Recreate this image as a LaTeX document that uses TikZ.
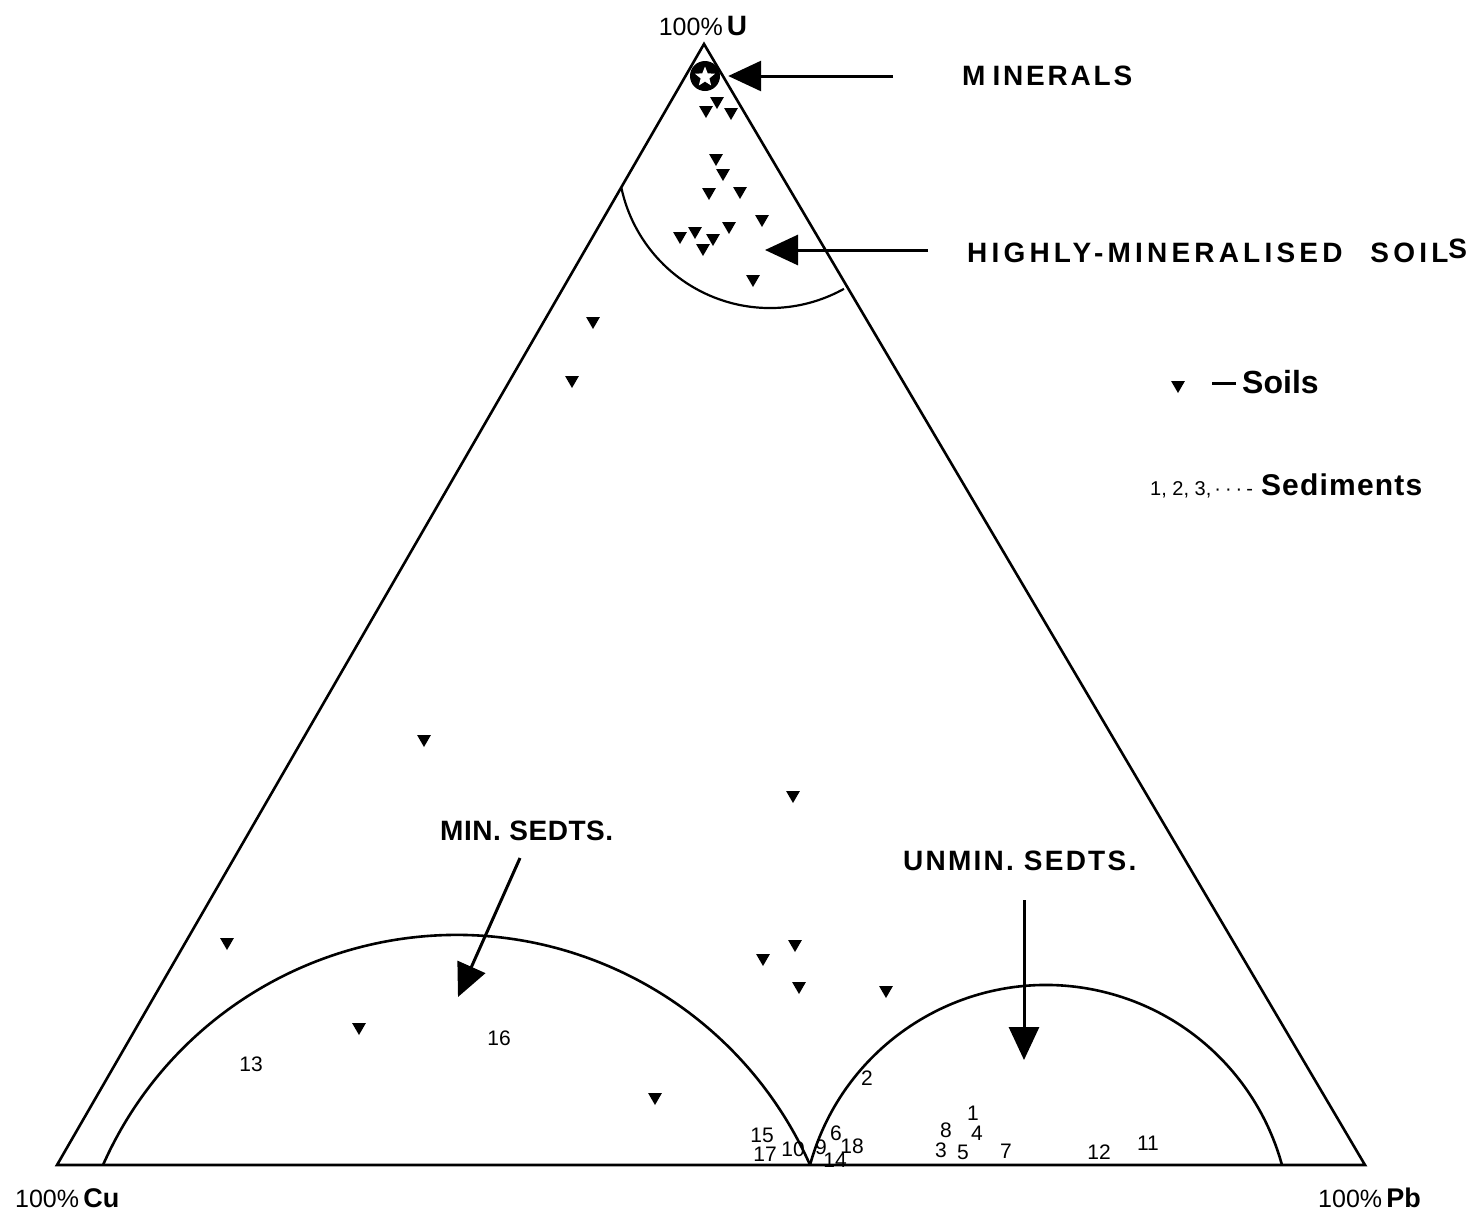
\documentclass[tikz,border=0pt]{standalone}
\usepackage{fontspec}
\setmainfont{Liberation Sans}
\usetikzlibrary{arrows.meta,shapes.geometric}
\begin{document}
\begin{tikzpicture}[x=1pt,y=-1pt,
  soil/.style={regular polygon,regular polygon sides=3,shape border rotate=180,fill=black,inner sep=0pt,minimum size=16pt},
  num/.style={font=\fontsize{21}{21}\selectfont,inner sep=0pt},
  biglbl/.style={font=\fontsize{28}{28}\selectfont\bfseries,inner sep=0pt,anchor=base west},
  side/.style={line width=2.6pt,line join=miter},
  arcline/.style={line width=2.6pt},
  bigarrow/.style={line width=3pt,-{Triangle[length=33pt,width=30pt]}}]
\useasboundingbox (0,0) rectangle (1480,1219);
\fill[white] (0,0) rectangle (1480,1219);

% main triangle
\coordinate (U) at (704,44);
\coordinate (Cu) at (57,1165);
\coordinate (Pb) at (1365,1165);
\draw[side] (U) -- (Cu) -- (Pb) -- cycle;

% region boundaries (circular arcs)
\coordinate (hmA) at (621.4,187.9);
\draw[line width=2.2pt] (hmA) arc[start angle=167.9,end angle=60.9,radius=152];
\coordinate (minA) at (103,1165);
\draw[arcline] (minA) arc[start angle=203.9,end angle=336.1,radius=386.7];
\coordinate (unA) at (810,1165);
\draw[arcline] (unA) arc[start angle=195.33,end angle=344.67,radius=244.7];

% minerals marker
\node[circle,fill=black,minimum size=30pt,inner sep=0pt] (mincirc) at (705,76) {};
\node[star,star points=5,star point ratio=2.3,fill=white,minimum size=21pt,inner sep=0pt] (minstar) at (705,77) {};

% corner labels
\node[inner sep=0pt,anchor=base] (lU) at (703,35) {\fontsize{25}{25}\selectfont 100\%\,{\fontsize{28}{28}\selectfont\bfseries U}};
\node[inner sep=0pt,anchor=base west] (lCu) at (15,1207) {\fontsize{25}{25}\selectfont 100\%\,{\fontsize{27}{27}\selectfont\bfseries Cu}};
\node[inner sep=0pt,anchor=base west] (lPb) at (1318,1207) {\fontsize{25}{25}\selectfont 100\%\,{\fontsize{27}{27}\selectfont\bfseries Pb}};

% labels with arrows
\node[biglbl] (tmin) at (962,85) {\addfontfeatures{LetterSpace=10}M\kern7pt INERALS};
\coordinate (minT) at (893,76);
\draw[bigarrow] (minT) -- (mincirc.east) [shorten >=8pt];

\node[biglbl] (thm) at (967,262) {\addfontfeatures{LetterSpace=15}HIGHLY-MINERALISED\hspace{28pt}SOIL\raisebox{4pt}{S}};
\coordinate (hmT) at (928,250);
\coordinate (hmH) at (765,250);
\draw[bigarrow] (hmT) -- (hmH);

\node[biglbl] (tmins) at (440,840) {\addfontfeatures{LetterSpace=2}MIN. SEDTS.};
\coordinate (minsT) at (520,858);
\coordinate (minsH) at (458,997);
\draw[bigarrow] (minsT) -- (minsH);

\node[biglbl] (tunm) at (903,870) {\addfontfeatures{LetterSpace=8}UNMIN. SEDTS.};
\coordinate (unmT) at (1024,900);
\coordinate (unmH) at (1024,1060);
\draw[bigarrow] (unmT) -- (unmH);

% legend
\node[soil] (legsoil) at (1178,385) {};
\node[inner sep=0pt,anchor=base west] (legsoiltxt) at (1212,393) {\rule[8pt]{24pt}{3.5pt}\hspace{6pt}{\fontsize{32}{32}\selectfont\bfseries Soils}};
\node[inner sep=0pt,anchor=base west] (legsed) at (1150,495) {\fontsize{20}{20}\selectfont 1, 2, 3,\kern3pt·\kern4pt·\kern4pt·\kern4pt-\kern8pt{\fontsize{30}{30}\selectfont\bfseries\addfontfeatures{LetterSpace=4}Sediments}};

% soils
\foreach [count=\i] \x/\y in {717/101,706/110,731/112,716/158,723/173,709/192,740/191,762/219,729/226,680/236,695/231,713/238,703/248,753/279,
  593/321,572/380,424/739,793/795,227/942,795/944,763/958,799/986,886/990,359/1027,655/1097}
  \node[soil] (s\i) at (\x,\y) {};

% sediments
\foreach \t/\x/\y in {13/251/1064,16/499/1038,2/867/1078,15/762/1135,17/765/1154,10/793/1149,9/821/1147,6/836/1133,18/852/1146,14/835/1160,
  1/973/1113,8/946/1130,4/977/1133,3/941/1150,5/963/1152,7/1006/1151,12/1099/1152,11/1148/1143}
  \node[num] (n\t) at (\x,\y) {\t};
\end{tikzpicture}
\end{document}
